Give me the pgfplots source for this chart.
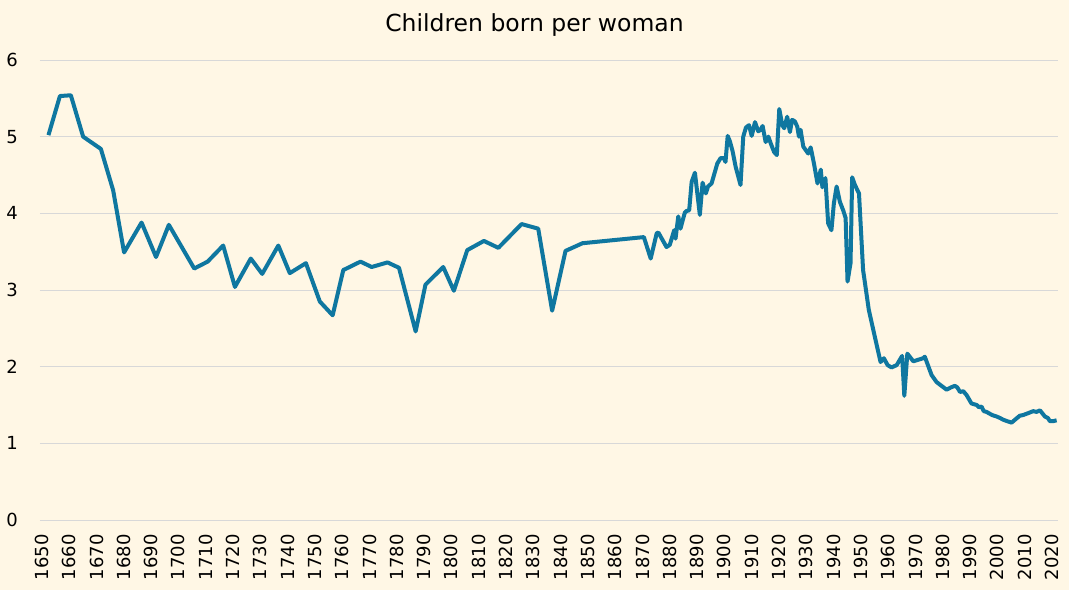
\documentclass[border=0pt]{standalone}
\usepackage{pgfplots}
\pgfplotsset{compat=1.18}
\usepackage{fontspec}
\setmainfont{DejaVu Sans}
\definecolor{bg}{HTML}{FFF7E5}
\definecolor{line}{HTML}{0F77A0}
\definecolor{gridc}{HTML}{D8D8D8}
\begin{document}
\begin{tikzpicture}
\fill[bg] (-40bp,-70bp) rectangle (1029bp,520bp);
\begin{axis}[
  at={(0,0)}, anchor=south west,
  scale only axis, width=1018bp, height=460bp,
  xmin=1649.3, xmax=2022.2, ymin=0, ymax=6,
  axis line style={draw=none},
  major tick length=0pt,
  xtick={1650,1660,...,2020},
  ytick={0,1,...,6},
  ymajorgrids, grid style={gridc, line width=0.8bp},
  /pgf/number format/assume math mode=true,
  /pgf/number format/1000 sep={},
  tick label style={font=\fontsize{18bp}{21bp}\selectfont, text=black},
  xticklabel style={rotate=90, anchor=east, inner xsep=14bp, inner ysep=0pt},
  yticklabel style={anchor=east, inner xsep=22bp},
  clip=false,
]
\addplot[line, line width=4bp, line join=round, mark=none] coordinates {
(1652.4,5.02)(1656.6,5.53)(1660.6,5.54)(1665.1,5.00)(1671.6,4.84)(1676.1,4.30)
(1680.1,3.49)(1686.5,3.88)(1691.8,3.43)(1696.5,3.85)(1705.8,3.28)(1710.7,3.37)
(1716.4,3.58)(1720.7,3.04)(1726.5,3.41)(1730.7,3.21)(1736.6,3.58)(1740.8,3.22)
(1746.7,3.35)(1751.8,2.85)(1756.5,2.67)(1760.4,3.26)(1766.7,3.37)(1770.8,3.30)
(1776.6,3.36)(1780.8,3.29)(1786.9,2.46)(1790.5,3.07)(1797.0,3.30)(1800.9,2.99)
(1805.8,3.52)(1811.9,3.64)(1817.2,3.55)(1825.7,3.86)(1831.8,3.80)(1836.9,2.73)
(1841.8,3.51)(1848.0,3.61)(1870.5,3.69)(1873.0,3.41)(1875.2,3.74)(1875.8,3.75)
(1878.8,3.56)(1880.0,3.59)(1881.6,3.78)(1882.1,3.67)(1883.1,3.96)(1883.9,3.80)
(1885.5,4.01)(1886.1,4.03)(1887.1,4.04)(1888.0,4.41)(1889.2,4.53)(1891.0,3.98)
(1892.0,4.40)(1893.2,4.26)(1894.0,4.35)(1895.3,4.39)(1897.4,4.65)(1898.6,4.72)
(1899.8,4.72)(1900.4,4.67)(1901.2,5.01)(1902.0,4.94)(1903.0,4.81)(1904.1,4.61)
(1905.9,4.37)(1906.9,5.00)(1907.9,5.12)(1909.0,5.15)(1910.0,5.01)(1911.2,5.19)
(1912.4,5.07)(1913.3,5.09)(1914.0,5.14)(1915.1,4.93)(1916.1,5.00)(1917.0,4.91)
(1918.2,4.80)(1919.2,4.76)(1920.1,5.36)(1921.2,5.15)(1921.9,5.11)(1923.0,5.26)
(1924.0,5.06)(1924.8,5.22)(1925.8,5.20)(1926.7,5.13)(1927.3,5.00)(1927.9,5.09)
(1928.9,4.87)(1930.7,4.78)(1931.6,4.86)(1932.8,4.65)(1934.1,4.39)(1935.3,4.57)
(1935.9,4.34)(1937.0,4.46)(1938.0,3.87)(1939.2,3.78)(1940.1,4.13)(1941.1,4.35)
(1942.3,4.15)(1943.5,4.04)(1944.4,3.94)(1945.1,3.11)(1946.2,3.35)(1946.8,4.47)
(1947.8,4.37)(1949.3,4.26)(1950.8,3.26)(1952.9,2.74)(1955.1,2.39)(1957.2,2.06)
(1958.4,2.11)(1959.8,2.02)(1961.2,1.99)(1963.1,2.02)(1965.1,2.14)(1965.9,1.62)
(1967.0,2.17)(1969.2,2.07)(1971.0,2.09)(1972.8,2.11)(1973.4,2.13)(1975.9,1.89)
(1977.7,1.80)(1979.5,1.75)(1981.4,1.70)(1983.0,1.73)(1984.4,1.75)(1985.3,1.73)
(1986.3,1.67)(1987.5,1.68)(1988.7,1.63)(1990.5,1.52)(1992.4,1.50)(1993.3,1.47)
(1994.2,1.48)(1995.0,1.42)(1996.0,1.41)(1997.0,1.39)(1998.0,1.37)(1999.7,1.35)
(2001.0,1.33)(2002.0,1.31)(2003.5,1.29)(2005.2,1.27)(2006.5,1.31)(2008.2,1.36)
(2009.5,1.37)(2011.0,1.39)(2013.1,1.42)(2014.3,1.41)(2015.6,1.43)(2017.4,1.35)
(2018.5,1.33)(2019.2,1.29)(2020.5,1.29)(2021.7,1.30)
};
\end{axis}
\node[anchor=base, inner sep=0pt, font=\fontsize{23.5bp}{28bp}\selectfont] at (494.5bp,488bp) {Children born per woman};
\pgfresetboundingbox
\path (-40bp,-70bp) rectangle (1029bp,520bp);
\end{tikzpicture}
\end{document}
